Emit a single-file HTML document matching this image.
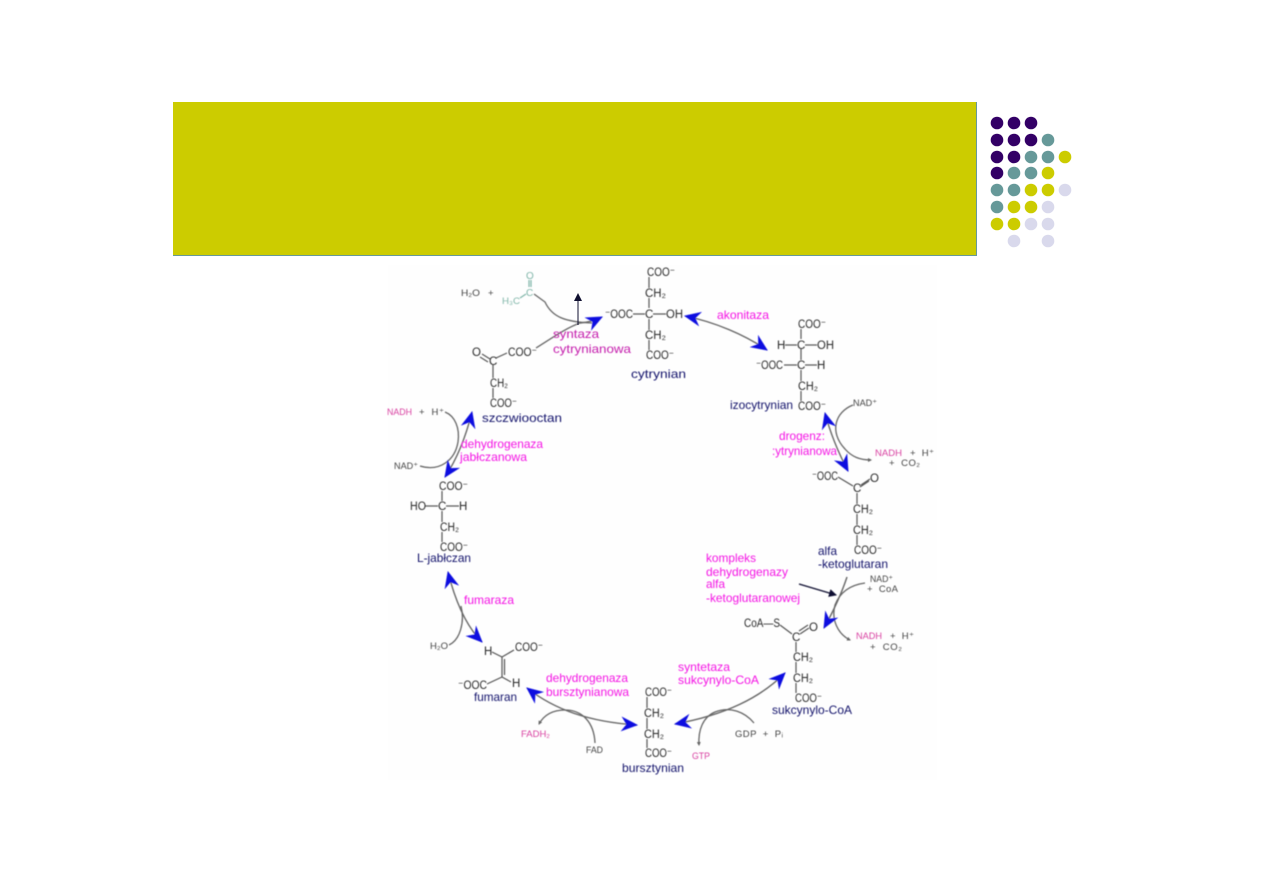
<!DOCTYPE html>
<html>
<head>
<meta charset="utf-8">
<title>Cykl Krebsa</title>
<style>
html,body{margin:0;padding:0;background:#fff;}
body{width:1263px;height:893px;overflow:hidden;position:relative;}
svg{position:absolute;left:0;top:0;}
text{font-family:"Liberation Sans",sans-serif;}
.c text{font-size:11.500px;fill:#2a2a2a;}
.s text{font-size:9.500px;fill:#444;}
.n text{font-size:11.800px;fill:#12126a;}
.m text{font-size:11.800px;fill:#f414e4;}
.p text{font-size:9.500px;fill:#d83fa0;}
.g path,.g line{fill:none;stroke:#555;stroke-width:1.2;}
.b path{fill:none;stroke:#666;stroke-width:1.3;}
</style>
</head>
<body>
<svg width="1263" height="893" viewBox="0 0 1263 893" xmlns="http://www.w3.org/2000/svg">
<defs>
<marker id="bh" viewBox="0 0 16 14" refX="15" refY="7" markerWidth="17" markerHeight="15" markerUnits="userSpaceOnUse" orient="auto-start-reverse">
<path d="M16,7 L0,0 L5,7 L0,14 Z" fill="#0c0ce0"/>
</marker>
<marker id="sm" viewBox="0 0 4 4" refX="3" refY="2" markerWidth="4" markerHeight="4" markerUnits="userSpaceOnUse" orient="auto">
<path d="M0,0 L4,2 L0,4 Z" fill="#666"/>
</marker>
<marker id="kh" viewBox="0 0 8 8" refX="7" refY="4" markerWidth="8" markerHeight="8" markerUnits="userSpaceOnUse" orient="auto">
<path d="M0,0 L8,4 L0,8 Z" fill="#101030"/>
</marker>
<filter id="bl" x="-5%" y="-5%" width="110%" height="110%"><feGaussianBlur stdDeviation="0.4"/></filter>
</defs>

<rect x="173" y="102" width="804" height="154" fill="#cccc00"/>
<rect x="976" y="102" width="1" height="154" fill="#669999"/>
<rect x="173" y="255" width="804" height="1" fill="#669999"/>

<g fill="#330066">
<circle cx="997" cy="123" r="6.3"/><circle cx="1014" cy="123" r="6.3"/><circle cx="1031" cy="123" r="6.3"/>
<circle cx="997" cy="140" r="6.3"/><circle cx="1014" cy="140" r="6.3"/><circle cx="1031" cy="140" r="6.3"/>
<circle cx="997" cy="157" r="6.3"/><circle cx="1014" cy="157" r="6.3"/>
<circle cx="997" cy="173" r="6.3"/>
</g>
<g fill="#669999">
<circle cx="1048" cy="140" r="6.3"/>
<circle cx="1031" cy="157" r="6.3"/><circle cx="1048" cy="157" r="6.3"/>
<circle cx="1014" cy="173" r="6.3"/><circle cx="1031" cy="173" r="6.3"/>
<circle cx="997" cy="190" r="6.3"/><circle cx="1014" cy="190" r="6.3"/>
<circle cx="997" cy="207" r="6.3"/>
</g>
<g fill="#cccc00">
<circle cx="1065" cy="157" r="6.3"/>
<circle cx="1048" cy="173" r="6.3"/>
<circle cx="1031" cy="190" r="6.3"/><circle cx="1048" cy="190" r="6.3"/>
<circle cx="1014" cy="207" r="6.3"/><circle cx="1031" cy="207" r="6.3"/>
<circle cx="997" cy="224" r="6.3"/><circle cx="1014" cy="224" r="6.3"/>
</g>
<g fill="#d9d9ec">
<circle cx="1065" cy="190" r="6.3"/>
<circle cx="1048" cy="207" r="6.3"/>
<circle cx="1031" cy="224" r="6.3"/><circle cx="1048" cy="224" r="6.3"/>
<circle cx="1014" cy="241" r="6.3"/><circle cx="1048" cy="241" r="6.3"/>
</g>

<rect x="388" y="265" width="549" height="515" fill="#fefefe"/>

<g filter="url(#bl)">
<!-- bonds -->
<g class="g">
<line x1="649" y1="277" x2="649" y2="288"/><line x1="649" y1="298" x2="649" y2="308"/><line x1="649" y1="319" x2="649" y2="330"/><line x1="649" y1="340" x2="649" y2="350"/>
<line x1="633" y1="314" x2="645" y2="314"/><line x1="653" y1="314" x2="666" y2="314"/>
<line x1="801" y1="329" x2="801" y2="339"/><line x1="801" y1="349" x2="801" y2="360"/><line x1="801" y1="370" x2="801" y2="381"/><line x1="801" y1="391" x2="801" y2="401"/>
<line x1="785" y1="345" x2="797" y2="345"/><line x1="805" y1="345" x2="817" y2="345"/><line x1="784" y1="365" x2="797" y2="365"/><line x1="805" y1="365" x2="817" y2="365"/>
<line x1="838" y1="477" x2="853" y2="486"/><line x1="861" y1="485" x2="870" y2="479"/><line x1="860" y1="487" x2="869" y2="481"/>
<line x1="857" y1="493" x2="857" y2="504"/><line x1="857" y1="514" x2="857" y2="525"/><line x1="857" y1="535" x2="857" y2="545"/>
<line x1="780" y1="625" x2="792" y2="634"/><line x1="800" y1="634" x2="809" y2="628"/><line x1="799" y1="631" x2="808" y2="625"/>
<line x1="796" y1="642" x2="796" y2="652"/><line x1="796" y1="662" x2="796" y2="673"/><line x1="796" y1="683" x2="796" y2="693"/>
<line x1="647" y1="697" x2="647" y2="708"/><line x1="647" y1="718" x2="647" y2="729"/><line x1="647" y1="739" x2="647" y2="748"/>
<line x1="492" y1="652" x2="502" y2="657"/><line x1="502" y1="657" x2="514" y2="650"/><line x1="502" y1="657" x2="502" y2="677"/><line x1="504.500" y1="659" x2="504.500" y2="675"/>
<line x1="487" y1="684" x2="502" y2="677"/><line x1="502" y1="677" x2="511" y2="682"/>
<line x1="442" y1="491" x2="442" y2="501"/><line x1="442" y1="511" x2="442" y2="522"/><line x1="442" y1="532" x2="442" y2="542"/>
<line x1="425" y1="506" x2="438" y2="506"/><line x1="446" y1="506" x2="459" y2="506"/>
<line x1="482" y1="354" x2="490" y2="359"/><line x1="480" y1="357" x2="488" y2="362"/><line x1="496" y1="358" x2="507" y2="353"/>
<line x1="493" y1="365" x2="493" y2="378"/><line x1="493" y1="388" x2="493" y2="398"/>
</g>
<g class="g"><path d="M526,294 L520,298" style="stroke:#7fb5a8"/><path d="M529,280 L529,287 M531,280 L531,287" style="stroke:#7fb5a8"/></g>

<!-- cofactor curves -->
<g class="b">
<path d="M534,294 L545,302 C552,317 565,322 592,323"/>
<path d="M536,348 C552,338 566,328 580,323"/>
<path d="M853,405 C835,412 829,432 845,449 C852,457 860,460 871,460" marker-end="url(#sm)"/>
<path d="M865,583 C850,585 840,592 835,605 C831,620 838,634 850,640" marker-end="url(#sm)"/>
<path d="M754,723 C745,712 730,706 715,712 C703,717 698,730 699,745" marker-end="url(#sm)"/>
<path d="M595,743 C594,722 582,710 565,710 C552,710 544,715 539,724" marker-end="url(#sm)"/>
<path d="M449,645 C460,640 465,622 461,606"/>
<path d="M420,466 C440,472 455,460 458,442 C460,428 455,416 445,412"/>
</g>

<!-- enzyme reversible arrows -->
<g fill="none" stroke="#666" stroke-width="1.4">
<path d="M580,323 Q592,322 602,317" marker-end="url(#bh)"/>
<path d="M685,316 C715,322 745,335 767,350" marker-start="url(#bh)" marker-end="url(#bh)"/>
<path d="M825,413 C830,432 838,452 848,471" marker-start="url(#bh)" marker-end="url(#bh)"/>
<path d="M847,577 C841,595 834,610 824,628" marker-end="url(#bh)"/>
<path d="M785,673 C760,698 725,715 675,724" marker-start="url(#bh)" marker-end="url(#bh)"/>
<path d="M527,688 C555,710 590,722 637,725" marker-start="url(#bh)" marker-end="url(#bh)"/>
<path d="M448,572 C455,600 465,625 482,642" marker-start="url(#bh)" marker-end="url(#bh)"/>
<path d="M472,412 C465,440 455,462 445,477" marker-start="url(#bh)" marker-end="url(#bh)"/>
</g>

<!-- molecules -->
<g class="c">
<text x="647" y="276" textLength="28" lengthAdjust="spacingAndGlyphs">COO⁻</text><text x="645" y="297" textLength="21" lengthAdjust="spacingAndGlyphs">CH₂</text>
<text x="605" y="318" textLength="28" lengthAdjust="spacingAndGlyphs">⁻OOC</text><text x="645" y="318">C</text><text x="666" y="318" textLength="17" lengthAdjust="spacingAndGlyphs">OH</text>
<text x="645" y="339" textLength="21" lengthAdjust="spacingAndGlyphs">CH₂</text><text x="646" y="359" textLength="28" lengthAdjust="spacingAndGlyphs">COO⁻</text>

<text x="798" y="328" textLength="28" lengthAdjust="spacingAndGlyphs">COO⁻</text>
<text x="777" y="349">H</text><text x="797" y="349">C</text><text x="817" y="349" textLength="17" lengthAdjust="spacingAndGlyphs">OH</text>
<text x="756" y="369" textLength="27" lengthAdjust="spacingAndGlyphs">⁻OOC</text><text x="797" y="369">C</text><text x="817" y="369">H</text>
<text x="798" y="390" textLength="20" lengthAdjust="spacingAndGlyphs">CH₂</text><text x="798" y="410" textLength="28" lengthAdjust="spacingAndGlyphs">COO⁻</text>

<text x="812" y="480" textLength="26" lengthAdjust="spacingAndGlyphs">⁻OOC</text><text x="853" y="492">C</text><text x="870" y="482">O</text>
<text x="853" y="513" textLength="20" lengthAdjust="spacingAndGlyphs">CH₂</text><text x="853" y="534" textLength="20" lengthAdjust="spacingAndGlyphs">CH₂</text><text x="854" y="554" textLength="28" lengthAdjust="spacingAndGlyphs">COO⁻</text>

<text x="744" y="627" textLength="36" lengthAdjust="spacingAndGlyphs">CoA—S</text><text x="792" y="641">C</text><text x="809" y="631">O</text>
<text x="793" y="661" textLength="20" lengthAdjust="spacingAndGlyphs">CH₂</text><text x="793" y="682" textLength="20" lengthAdjust="spacingAndGlyphs">CH₂</text><text x="795" y="702" textLength="27" lengthAdjust="spacingAndGlyphs">COO⁻</text>

<text x="645" y="696" textLength="27" lengthAdjust="spacingAndGlyphs">COO⁻</text><text x="644" y="717" textLength="20" lengthAdjust="spacingAndGlyphs">CH₂</text><text x="644" y="738" textLength="20" lengthAdjust="spacingAndGlyphs">CH₂</text><text x="645" y="757" textLength="27" lengthAdjust="spacingAndGlyphs">COO⁻</text>

<text x="484" y="655">H</text><text x="515" y="651" textLength="28" lengthAdjust="spacingAndGlyphs">COO⁻</text>
<text x="458" y="689" textLength="29" lengthAdjust="spacingAndGlyphs">⁻OOC</text><text x="512" y="687">H</text>

<text x="439" y="490" textLength="29" lengthAdjust="spacingAndGlyphs">COO⁻</text>
<text x="410" y="510" textLength="16" lengthAdjust="spacingAndGlyphs">HO</text><text x="438" y="510">C</text><text x="459" y="510">H</text>
<text x="440" y="531" textLength="19" lengthAdjust="spacingAndGlyphs">CH₂</text><text x="440" y="551" textLength="28" lengthAdjust="spacingAndGlyphs">COO⁻</text>

<text x="472" y="356">O</text><text x="489" y="365">C</text><text x="508" y="356" textLength="29" lengthAdjust="spacingAndGlyphs">COO⁻</text>
<text x="490" y="387" textLength="18" lengthAdjust="spacingAndGlyphs">CH₂</text><text x="490" y="407" textLength="27" lengthAdjust="spacingAndGlyphs">COO⁻</text>
</g>

<text x="526" y="279" font-size="10" fill="#7fb5a8">O</text>
<text x="526" y="296" font-size="10" fill="#7fb5a8">C</text>
<text x="502" y="304" font-size="9.500" fill="#7fb5a8" textLength="18" lengthAdjust="spacingAndGlyphs">H₃C</text>

<!-- small gray cofactors -->
<g class="s">
<text x="461" y="296" textLength="19" lengthAdjust="spacingAndGlyphs">H₂O</text><text x="488" y="296">+</text>
<text x="853" y="406" textLength="24" lengthAdjust="spacingAndGlyphs">NAD⁺</text>
<text x="910" y="456" textLength="24">+ &#160;H⁺</text><text x="889" y="466" textLength="31">+ &#160;CO₂</text>
<text x="870" y="582" textLength="23" lengthAdjust="spacingAndGlyphs">NAD⁺</text><text x="867" y="592" textLength="31">+ &#160;CoA</text>
<text x="890" y="639" textLength="24">+ &#160;H⁺</text><text x="870" y="650" textLength="32">+ &#160;CO₂</text>
<text x="735" y="737" textLength="48">GDP &#160;+ &#160;Pᵢ</text>
<text x="586" y="753" textLength="17" lengthAdjust="spacingAndGlyphs">FAD</text>
<text x="430" y="649" textLength="18" lengthAdjust="spacingAndGlyphs">H₂O</text>
<text x="394" y="469" textLength="24" lengthAdjust="spacingAndGlyphs">NAD⁺</text>
<text x="419" y="415" textLength="25">+ &#160;H⁺</text>
</g>

<!-- pink cofactors -->
<g class="p">
<text x="875" y="456" textLength="27" lengthAdjust="spacingAndGlyphs">NADH</text>
<text x="856" y="639" textLength="26" lengthAdjust="spacingAndGlyphs">NADH</text>
<text x="692" y="759" textLength="18" lengthAdjust="spacingAndGlyphs">GTP</text>
<text x="521" y="737" textLength="29" lengthAdjust="spacingAndGlyphs">FADH₂</text>
<text x="387" y="415" textLength="25" lengthAdjust="spacingAndGlyphs">NADH</text>
</g>

<!-- metabolite names -->
<g class="n">
<text x="631" y="378" textLength="55" lengthAdjust="spacingAndGlyphs">cytrynian</text>
<text x="730" y="409" textLength="63" lengthAdjust="spacingAndGlyphs">izocytrynian</text>
<text x="818" y="555" textLength="19" lengthAdjust="spacingAndGlyphs">alfa</text>
<text x="818" y="568" textLength="70" lengthAdjust="spacingAndGlyphs">-ketoglutaran</text>
<text x="772" y="714" textLength="80" lengthAdjust="spacingAndGlyphs">sukcynylo-CoA</text>
<text x="622" y="772" textLength="62" lengthAdjust="spacingAndGlyphs">bursztynian</text>
<text x="474" y="701" textLength="43" lengthAdjust="spacingAndGlyphs">fumaran</text>
<text x="417" y="562" textLength="54" lengthAdjust="spacingAndGlyphs">L-jabłczan</text>
<text x="482" y="422" textLength="80" lengthAdjust="spacingAndGlyphs">szczwiooctan</text>
</g>

<!-- enzymes -->
<g class="m">
<text x="553" y="338" textLength="46" lengthAdjust="spacingAndGlyphs" style="fill:#c41cac">syntaza</text>
<text x="553" y="353" textLength="78" lengthAdjust="spacingAndGlyphs" style="fill:#c41cac">cytrynianowa</text>
<text x="717" y="319" textLength="52" lengthAdjust="spacingAndGlyphs">akonitaza</text>
<text x="779" y="440" textLength="46" lengthAdjust="spacingAndGlyphs">drogenz:</text>
<text x="772" y="455" textLength="65" lengthAdjust="spacingAndGlyphs">:ytrynianowa</text>
<text x="706" y="562" textLength="50" lengthAdjust="spacingAndGlyphs">kompleks</text>
<text x="706" y="576" textLength="82" lengthAdjust="spacingAndGlyphs">dehydrogenazy</text>
<text x="706" y="588" textLength="19" lengthAdjust="spacingAndGlyphs">alfa</text>
<text x="706" y="602" textLength="94" lengthAdjust="spacingAndGlyphs">-ketoglutaranowej</text>
<text x="678" y="671" textLength="52" lengthAdjust="spacingAndGlyphs">syntetaza</text>
<text x="678" y="684" textLength="81" lengthAdjust="spacingAndGlyphs">sukcynylo-CoA</text>
<text x="546" y="682" textLength="82" lengthAdjust="spacingAndGlyphs">dehydrogenaza</text>
<text x="546" y="696" textLength="83" lengthAdjust="spacingAndGlyphs">bursztynianowa</text>
<text x="464" y="604" textLength="50" lengthAdjust="spacingAndGlyphs">fumaraza</text>
<text x="461" y="448" textLength="82" lengthAdjust="spacingAndGlyphs">dehydrogenaza</text>
<text x="460" y="461" textLength="67" lengthAdjust="spacingAndGlyphs">jabłczanowa</text>
</g>

<line x1="799" y1="584" x2="836" y2="595" stroke="#101030" stroke-width="1.3" marker-end="url(#kh)"/>
</g>
<line x1="578" y1="325" x2="578" y2="294" stroke="#101030" stroke-width="1" marker-end="url(#kh)"/>
</svg>
</body>
</html>
